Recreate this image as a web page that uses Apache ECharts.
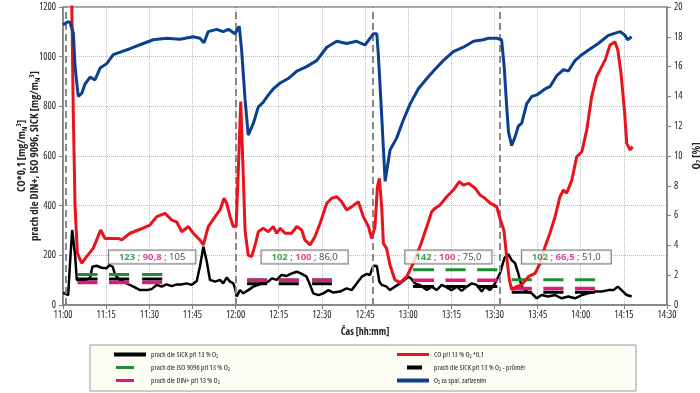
<!DOCTYPE html>
<html><head><meta charset="utf-8">
<script src="https://cdn.jsdelivr.net/npm/echarts@6/dist/echarts.min.js"></script>
<style>html,body{margin:0;padding:0;background:#fff}#c{width:700px;height:393px}</style>
</head><body><div id="c"></div>
<script>
const FONT = "'Open Sans','Open Sans Condensed',sans-serif";
const FS = 'condensed';

// x axis: minutes after 11:00
const tickLabels = ['11:00','11:15','11:30','11:45','12:00','12:15','12:30','12:45','13:00','13:15','13:30','13:45','14:00','14:15','14:30'];

// run start markers (minutes after 11:00)
const runStarts = [1.1, 60, 107.7, 152];

// sampling windows per run [from, to] in minutes
const samplingWindows = [
  [[5,12],[16,23],[27.5,34.5]],
  [[64,71],[75,82],[86.6,93.5]],
  [[121.7,129],[133,140],[144,151]],
  [[156,163],[167,174],[178,185]]
];
const isoValues = [123, 102, 142, 102];
const dinValues = [90.8, 100, 100, 66.5];
const sickAvgValues = [105, 86.0, 75.0, 51.0];
const annotAnchors = [[31,193],[84,193],[134,193],[175,193]];

const seriesNames = {
  sick: 'prach dle SICK při 13 % O2',
  iso: 'prach dle ISO 9096 při 13 % O2',
  din: 'prach dle DIN+ při 13 % O2',
  co: 'CO při 13 % O2 *0,1',
  avg: 'prach dle SICK při 13 % O2 - průměr',
  o2: 'O2 za spal. zařízením'
};

const o2Data = [[0,18.8],[1.5,19.0],[2.4,19.0],[3.6,18.25],[4.2,16.0],[5.3,14.0],[6.5,14.2],[7.6,14.8],[9.4,15.3],[11.1,15.1],[12.9,15.9],[15.2,16.2],[17.5,16.8],[20.4,17.0],[23.3,17.2],[27.9,17.55],[31.4,17.8],[36,17.9],[40.7,17.83],[45.3,18.0],[47.6,17.9],[49,17.6],[50.5,18.35],[53.4,18.5],[55.7,18.35],[57.5,18.5],[59.8,18.2],[61.3,18.7],[62.1,17.1],[63.3,13.8],[64.4,11.4],[66.2,12.2],[67.9,13.3],[69.6,13.6],[71.4,14.1],[73.1,14.5],[75.5,14.9],[78.3,15.2],[81.3,15.7],[84.7,16.0],[88.2,16.4],[91.7,17.3],[95.2,17.7],[98.6,17.55],[102.1,17.7],[105,17.45],[107.9,18.2],[109.1,18.2],[109.6,16.9],[110.5,13.8],[112,8.3],[113.7,10.4],[116,11.2],[118.3,12.4],[120.7,13.5],[123.5,14.5],[126.5,15.2],[129.3,15.8],[132.2,16.4],[135.7,17.0],[139.2,17.3],[142.7,17.7],[146.1,17.8],[147.9,17.9],[150.8,17.9],[152.5,17.8],[153.4,16.0],[154.2,13.5],[154.9,11.6],[156,10.7],[157.2,11.3],[158.3,12.0],[159.5,12.2],[161.2,13.5],[163,14.0],[164.7,14.1],[167.6,14.5],[169.3,14.65],[171.7,15.4],[174,15.8],[175.7,15.7],[178,16.4],[180.4,16.8],[182.6,17.1],[186.1,17.55],[189.6,18.1],[193.7,18.35],[195.4,18.1],[196.3,17.8],[197.7,18.0]];

const coData = [[2.6,1600],[3.6,758],[4.2,396],[5.0,209],[6.5,168],[8.2,195],[10.5,228],[11.7,262],[13.1,302],[14.6,268],[16.9,268],[19.2,268],[20.4,262],[23.3,289],[26.8,305],[30.2,322],[32.6,356],[35.5,369],[37.8,342],[39.5,335],[41.3,295],[43.6,316],[45.3,289],[47.6,262],[48.8,242],[50.5,316],[52.9,356],[54.6,383],[56,430],[56.9,410],[58.1,356],[59.2,316],[60.2,318],[61,557],[61.8,819],[62.5,584],[63.3,300],[64.4,200],[65.6,195],[66.8,242],[67.9,295],[69.6,309],[71.4,295],[73.1,316],[74.3,289],[75.5,309],[77.2,289],[79.5,289],[81.3,316],[83,302],[84.1,262],[85.9,242],[87.6,275],[89.4,329],[91.7,410],[93.4,430],[95.2,436],[96.9,416],[98.6,383],[100.4,396],[102.7,416],[104.4,356],[106.2,316],[107.3,268],[108.5,316],[109.3,476],[110,510],[110.8,396],[111.4,248],[112.5,228],[113.7,161],[115.4,101],[117.2,90],[119.5,114],[121.8,168],[124.1,235],[126.5,316],[128.2,376],[129.3,389],[131.1,403],[133.4,436],[135.7,463],[137.8,497],[139.2,483],[141,490],[143.3,470],[145,443],[146.7,430],[148.5,410],[150.8,396],[151.9,349],[153.3,300],[154.3,190],[155.2,100],[156,62],[157.7,74],[159.5,81],[161.8,114],[164.1,127],[165.9,168],[167.6,235],[169.3,289],[171.1,356],[172.8,436],[174,463],[175.1,450],[176.9,503],[178.6,597],[180.4,617],[182.1,705],[183.8,839],[185.5,919],[187.3,960],[188.5,987],[190.2,1047],[191.9,1060],[192.9,1027],[194,933],[195.2,785],[196,651],[197.2,624],[198,638]];

const sickData = [[0,50],[1.8,40],[2.4,161],[3.2,302],[4.2,201],[4.8,101],[7.1,101],[9.4,107],[10.2,154],[11.7,158],[13.4,150],[15.2,148],[16.1,161],[17.3,154],[18.1,121],[19.8,101],[22.1,87],[24.5,74],[26.8,60],[29.1,60],[30.8,64],[32.6,81],[34.3,74],[36,83],[37.8,76],[39.5,83],[41.3,83],[43,87],[44.7,81],[46.5,97],[47.6,154],[48.8,235],[50,174],[51.1,101],[52.9,94],[54.6,101],[55.7,87],[56.9,110],[58.1,94],[59.2,87],[59.8,67],[60.4,34],[61.5,60],[62.7,47],[64.4,60],[66.2,74],[67.9,81],[69.6,94],[71.4,94],[72.6,107],[74.3,101],[76,121],[77.8,117],[79.5,127],[81.3,134],[83,125],[84.7,114],[85.9,81],[87,47],[88.8,40],[90.5,47],[92.3,60],[94,50],[96.3,54],[98.6,67],[100.4,60],[102.1,87],[103.9,114],[105.6,125],[106.7,121],[107.9,158],[109.1,157],[110,94],[110.8,81],[112.5,74],[113.7,60],[115.4,74],[117.2,87],[118.9,103],[120.1,114],[121,107],[122.4,87],[124.1,81],[126.5,60],[128.2,74],[129.9,60],[131.7,81],[133.4,71],[135.1,60],[136.9,74],[138.6,57],[140.4,74],[142.1,87],[143.8,81],[145.6,54],[146.7,74],[148.5,60],[150.2,87],[151.9,127],[153.5,190],[154.8,205],[156,181],[157.2,168],[158.3,127],[159.5,74],[161.2,54],[163,47],[164.7,27],[166.4,40],[168.7,34],[171.1,40],[173.4,27],[175.7,34],[178,27],[180.4,40],[182.6,47],[185,54],[187.3,54],[189.6,60],[191.4,60],[192.9,74],[194.2,60],[196,40],[197.7,34]];

function segments(values) {
  const out = [];
  samplingWindows.forEach((run, r) => {
    run.forEach(w => { out.push([w[0], values[r]]); out.push([w[1], values[r]]); out.push([w[1], '-']); });
  });
  return out;
}
function fmt(v) { return v.toPrecision(3).replace('.', ','); }

const C = { green:'#1e8c32', magenta:'#e0177f', red:'#e8131b', blue:'#0b3f8f', black:'#000' };
const axisCol = '#808080';
const txt = (size, extra) => Object.assign({ fontFamily: FONT, fontStyle: FS, fontSize: size, color: '#222' }, extra || {});
const txtN = (size, extra) => Object.assign({ fontFamily: FONT, fontSize: size, color: '#222' }, extra || {});

function sub(s){ return s.replace(/O2/g, 'O{sub|2}'); }
const legendText = txt(7.5, { lineHeight: 9, rich: { sub: txt(5, { verticalAlign: 'bottom', lineHeight: 9 }) } });
const shortIso = 'path://M0,0L0.01,0L0,0.01Z M32,4L31.99,4L32,3.99Z M2,0.5L20,0.5L20,3.5L2,3.5Z';
const thinFull = 'path://M0,0L0.01,0L0,0.01Z M32,4L31.99,4L32,3.99Z M0,0.5L32,0.5L32,3.5L0,3.5Z';
const shortAvg = 'path://M0,0L0.01,0L0,0.01Z M32,4L31.99,4L32,3.99Z M10,0L25,0L25,4L10,4Z';

const chart = echarts.init(document.getElementById('c'), null, { renderer: 'canvas' });
chart.setOption({
  animation: false,
  backgroundColor: '#fff',
  textStyle: { fontFamily: FONT },
  grid: { left: 63, right: 33, top: 7, bottom: 88, outerBoundsMode: 'none', containLabel: false,
          show: true, borderColor: axisCol, borderWidth: 1.5 },
  graphic: [{ type: 'rect', z: -1, shape: { x: 90, y: 345, width: 546, height: 46 }, style: { fill: '#fdfdf5', stroke: '#9a9a9a', lineWidth: 1 } }],
  legend: [
    { orient: 'vertical', left: 114, top: 350, padding: 0, itemWidth: 32, itemHeight: 4, itemGap: 4, symbolKeepAspect: false, selectedMode: false,
      itemStyle: { borderWidth: 0 }, textStyle: legendText, formatter: sub,
      data: [{ name: seriesNames.sick, icon: 'rect' }, { name: seriesNames.iso, icon: shortIso }, { name: seriesNames.din, icon: shortIso }] },
    { orient: 'vertical', left: 397, top: 350, padding: 0, itemWidth: 32, itemHeight: 4, itemGap: 4, symbolKeepAspect: false, selectedMode: false,
      itemStyle: { borderWidth: 0 }, textStyle: legendText, formatter: sub,
      data: [{ name: seriesNames.co, icon: thinFull }, { name: seriesNames.avg, icon: shortAvg }, { name: seriesNames.o2, icon: 'rect' }] }
  ],
  xAxis: {
    type: 'value', min: 0, max: 210, interval: 15,
    axisLine: { show: true, lineStyle: { color: axisCol, width: 1.5 } },
    axisTick: { show: true, length: 4, lineStyle: { color: axisCol } },
    axisLabel: txt(10, { formatter: v => tickLabels[Math.round(v / 15)], margin: 5 }),
    splitLine: { show: true, lineStyle: { type: 'dotted', color: '#bdbdbd', width: 1 } },
    name: 'Čas [hh:mm]', nameLocation: 'middle', nameGap: 22, nameMoveOverlap: false,
    nameTextStyle: txt(10, { fontWeight: 'bold' })
  },
  yAxis: [
    {
      type: 'value', min: 0, max: 1200, interval: 200,
      axisLine: { show: true, lineStyle: { color: axisCol, width: 1.5 } },
      axisTick: { show: true, length: 4, lineStyle: { color: axisCol } },
      axisLabel: txt(10, { margin: 7, formatter: v => String(v) }),
      splitLine: { show: true, lineStyle: { type: 'dotted', color: '#bdbdbd', width: 1 } },
      name: 'CO*0,1 [mg/m{sub|N}{sup|3}]\nprach dle DIN+, ISO 9096, SICK [mg/m{sub|N}{sup|3}]',
      nameLocation: 'middle', nameRotate: 90, nameGap: 22, nameMoveOverlap: false,
      nameTextStyle: txt(11, { fontWeight: 'bold', lineHeight: 13,
        rich: { sub: txt(7, { fontWeight: 'bold', verticalAlign: 'bottom' }),
                sup: txt(7, { fontWeight: 'bold', verticalAlign: 'top' }) } })
    },
    {
      type: 'value', position: 'right', min: 0, max: 20, interval: 2,
      axisLine: { show: true, lineStyle: { color: axisCol, width: 1.5 } },
      axisTick: { show: true, length: 4, lineStyle: { color: axisCol } },
      axisLabel: txt(10, { margin: 7 }),
      splitLine: { show: false },
      name: 'O{sub|2} [%]', nameLocation: 'middle', nameRotate: 90, nameGap: 24, nameMoveOverlap: false,
      nameTextStyle: txt(11, { fontWeight: 'bold',
        rich: { sub: txt(7, { fontWeight: 'bold', verticalAlign: 'bottom' }) } })
    }
  ],
  series: [
    { name: seriesNames.sick, type: 'line', data: sickData, showSymbol: false, symbol: 'none', color: C.black,
      lineStyle: { width: 2.5, color: C.black }, z: 3,
      markLine: { silent: true, symbol: 'none', label: { show: false },
        lineStyle: { type: [7, 4], color: '#8a8a8a', width: 2 },
        data: runStarts.map(t => ({ xAxis: t })) } },
    { name: seriesNames.iso, type: 'line', data: segments(isoValues), symbol: 'none', color: C.green, lineStyle: { width: 3, color: C.green }, z: 4 },
    { name: seriesNames.din, type: 'line', data: segments(dinValues), symbol: 'none', color: C.magenta, lineStyle: { width: 3.5, color: C.magenta }, z: 4 },
    { name: seriesNames.avg, type: 'line', data: segments(sickAvgValues), symbol: 'none', color: C.black, lineStyle: { width: 3, color: C.black }, z: 4 },
    { name: seriesNames.co, type: 'line', data: coData, symbol: 'none', color: C.red, lineStyle: { width: 3, color: C.red }, z: 5 },
    { name: seriesNames.o2, type: 'line', yAxisIndex: 1, data: o2Data, symbol: 'none', color: C.blue, lineStyle: { width: 3, color: C.blue }, z: 5 },
    { name: 'annot', type: 'scatter', data: annotAnchors, symbolSize: 0, z: 10, silent: true,
      label: { show: true, position: 'inside',
        formatter: p => '{g|' + fmt(isoValues[p.dataIndex]) + '}{k| ; }{m|' + fmt(dinValues[p.dataIndex]) + '}{k| ; ' + fmt(sickAvgValues[p.dataIndex]) + '}',
        backgroundColor: '#fff', borderColor: '#555', borderWidth: 1, padding: [1, 10, 0, 10],
        rich: {
          g: txtN(9.5, { color: '#1a8a2c', fontWeight: 'bold', lineHeight: 12 }),
          m: txtN(9.5, { color: '#d4157a', fontWeight: 'bold', lineHeight: 12 }),
          k: txtN(9.5, { color: '#111', lineHeight: 12 })
        } } }
  ]
});
</script></body></html>
